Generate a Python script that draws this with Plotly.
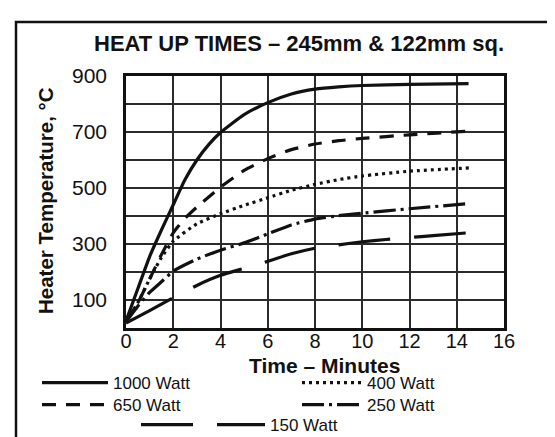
import plotly.graph_objects as go

# ---- data ----
t1000 = [0, 0.5, 1, 1.5, 2, 2.5, 3, 3.5, 4, 5, 6, 7, 8, 9, 10, 12, 14.5]
v1000 = [25, 140, 255, 350, 440, 530, 600, 655, 698, 762, 805, 836, 853, 861, 866, 870, 873]

t650 = [0, 0.5, 1, 1.5, 2, 2.5, 3, 4, 5, 6, 7, 8, 9, 10, 12, 14.5]
v650 = [25, 90, 175, 262, 340, 392, 432, 503, 563, 605, 637, 657, 669, 677, 690, 703]

t400 = [0, 0.5, 1, 1.5, 2, 3, 4, 5, 6, 7, 8, 9, 10, 12, 14.6]
v400 = [25, 90, 175, 252, 310, 372, 408, 438, 465, 492, 513, 530, 543, 560, 572]

t250 = [0, 0.5, 1, 1.5, 2, 3, 4, 5, 6, 7, 8, 9, 10, 12, 14.5]
v250 = [22, 78, 127, 165, 203, 246, 278, 304, 336, 368, 389, 401, 410, 426, 444]

t150 = [0, 1, 2, 3, 4, 5, 6, 7, 8, 9, 10, 11, 12, 13, 14.5]
v150 = [18, 62, 108, 152, 188, 213, 238, 265, 285, 297, 308, 316, 323, 330, 340]

series_names = ["1000 Watt", "650 Watt", "400 Watt", "250 Watt", "150 Watt"]
x_ticks = [0, 2, 4, 6, 8, 10, 12, 14, 16]
y_ticks = [100, 300, 500, 700, 900]

title_text = "HEAT UP TIMES \u2013 245mm & 122mm sq."
x_title = "Time \u2013 Minutes"
y_title = "Heater Temperature, \u00b0C"

FONT = "Liberation Sans, Arial, sans-serif"
INK = "#111111"

W, H = 555, 437
L, R, T, B = 118, 59, 68, 117
pw, ph = W - L - R, H - T - B

fig = go.Figure()

# one legend per entry so each can sit where the reference puts it
styles = [
    dict(t=t1000, v=v1000, dash="solid", leg=dict(x=29, top=357, iw=66)),
    dict(t=t650, v=v650, dash="14px,10px", leg=dict(x=29, top=379, iw=66)),
    dict(t=t400, v=v400, dash="3px,4px", leg=dict(x=289, top=357, iw=60)),
    dict(t=t250, v=v250, dash="22px,5px,3px,5px", leg=dict(x=289, top=379, iw=60)),
    dict(t=t150, v=v150, dash="52px,24px", leg=dict(x=128, top=399, iw=124)),
]

legend_layout = {}
for i, (name, s) in enumerate(zip(series_names, styles)):
    key = "legend" if i == 0 else "legend%d" % (i + 1)
    fig.add_trace(go.Scatter(
        x=s["t"], y=s["v"], mode="lines", name=name,
        line=dict(color=INK, width=3.2, dash=s["dash"], shape="spline", smoothing=0.5),
        legend=key, showlegend=True,
    ))
    lg = s["leg"]
    legend_layout[key] = dict(
        font=dict(family=FONT, size=17, color=INK),
        bgcolor="rgba(0,0,0,0)", borderwidth=0,
        xref="container", yref="container", xanchor="left", yanchor="top",
        x=lg["x"] / W, y=1 - lg["top"] / H, itemwidth=lg["iw"],
    )

fig.update_layout(
    width=W, height=H,
    margin=dict(l=L, r=R, t=T, b=B, autoexpand=False),
    paper_bgcolor="white", plot_bgcolor="white",
    font=dict(family=FONT, color=INK),
    title=dict(
        text="<b>" + title_text + "</b>",
        font=dict(family=FONT, size=22, color=INK),
        x=291 / W, xanchor="center", xref="container",
        y=1 - 35 / H, yanchor="middle", yref="container",
    ),
    showlegend=True,
    **legend_layout,
)

fig.update_xaxes(
    range=[0, 16], tickvals=x_ticks, ticktext=[str(v) for v in x_ticks],
    showgrid=True, gridcolor="#2b2b2b", gridwidth=1.6,
    showline=True, linecolor=INK, linewidth=2.5, mirror=True,
    ticks="", ticklabelstandoff=-7,
    tickfont=dict(family=FONT, size=20, color=INK),
    zeroline=False, automargin=False, fixedrange=True,
)

fig.update_yaxes(
    range=[0, 900], tickvals=y_ticks, ticktext=[str(v) for v in y_ticks],
    showgrid=True, gridcolor="#2b2b2b", gridwidth=1.6,
    minor=dict(dtick=100, tick0=0, showgrid=True, gridcolor="#2b2b2b", gridwidth=1.6),
    showline=True, linecolor=INK, linewidth=2.5, mirror=True,
    ticks="", ticklabelstandoff=12,
    tickfont=dict(family=FONT, size=21, color=INK),
    zeroline=False, automargin=False, fixedrange=True,
)

# axis titles
fig.add_annotation(
    text="<b>" + x_title + "</b>", xref="paper", yref="paper",
    x=(316 - L) / pw, y=(H - B - 357) / ph, xanchor="center", yanchor="middle",
    showarrow=False, font=dict(family=FONT, size=21, color=INK),
)
fig.add_annotation(
    text="<b>" + y_title + "</b>", xref="paper", yref="paper",
    x=(37 - L) / pw, y=(H - B - 193) / ph, xanchor="center", yanchor="middle",
    textangle=-90, showarrow=False, font=dict(family=FONT, size=20.5, color=INK),
)

# outer frame of the figure (runs past the right/bottom edge like the scan)
fig.add_shape(
    type="rect", xref="paper", yref="paper",
    x0=(8 - L) / pw, x1=(W + 20 - L) / pw,
    y0=(H - B - (H + 20)) / ph, y1=(H - B - 14) / ph,
    line=dict(color=INK, width=2.5), fillcolor="rgba(0,0,0,0)", layer="below",
)

fig.write_html("out.html")
